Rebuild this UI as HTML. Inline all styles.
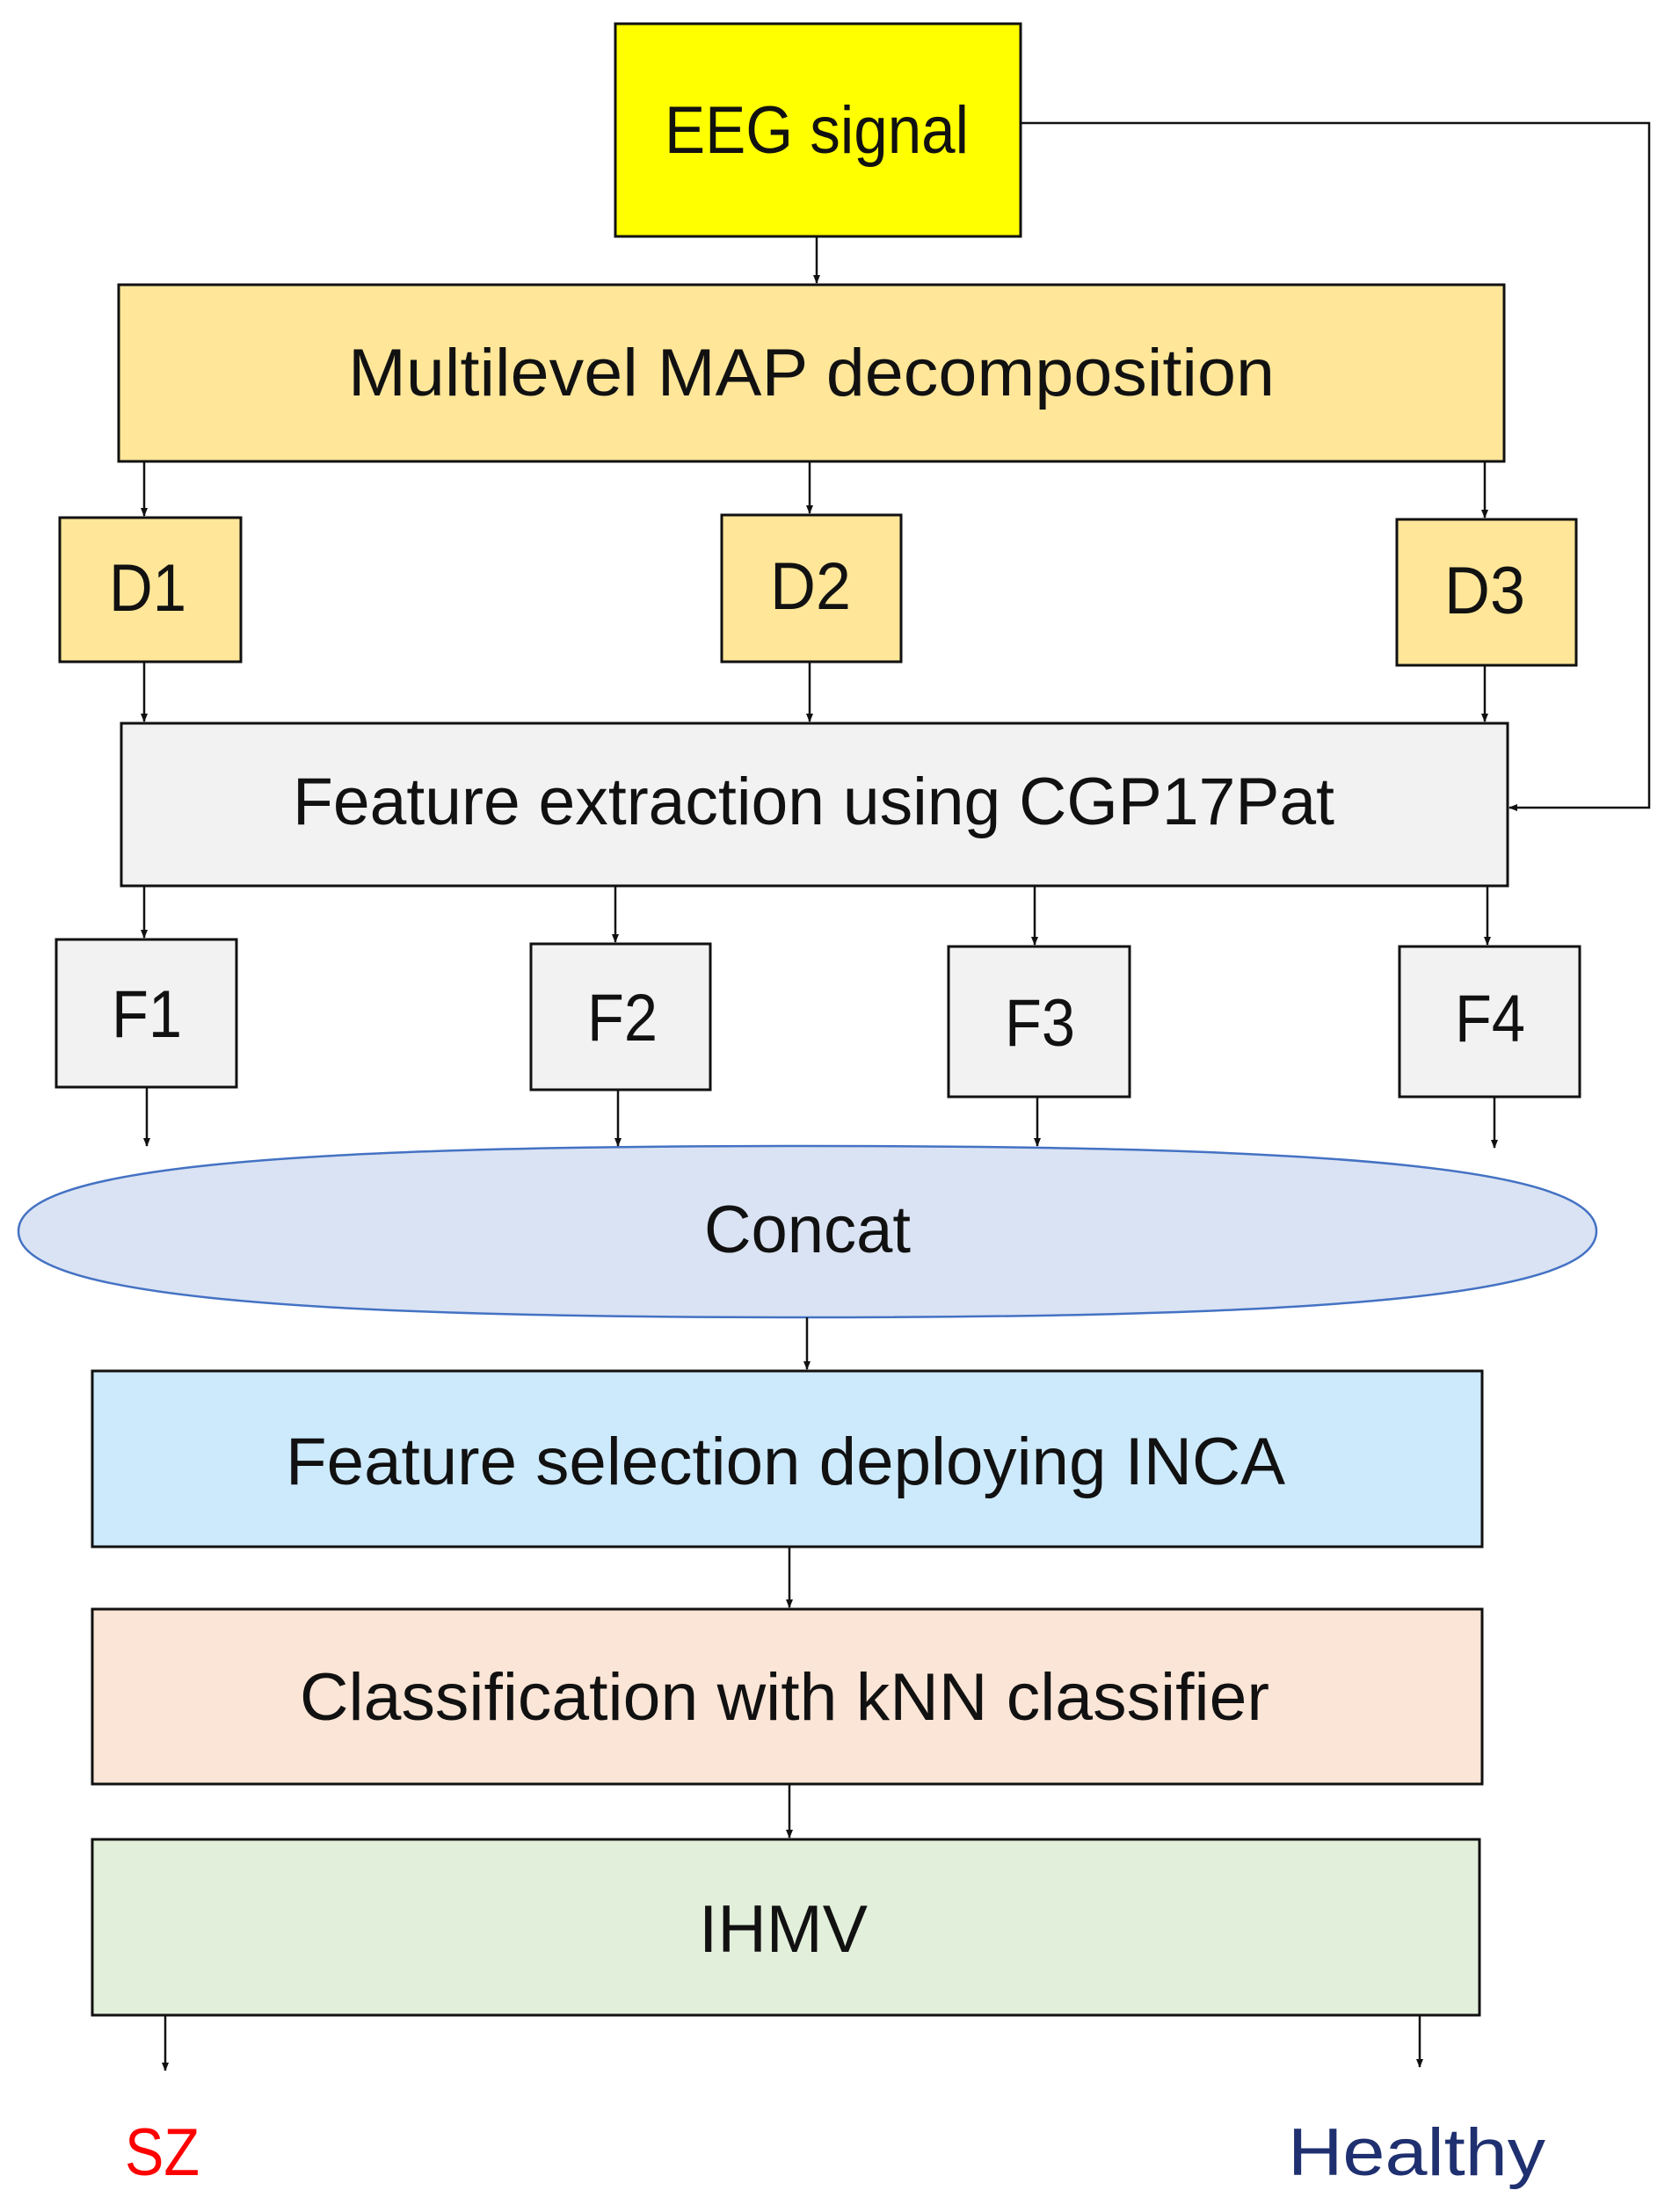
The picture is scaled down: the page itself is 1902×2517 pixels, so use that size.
<!DOCTYPE html>
<html><head><style>body{margin:0;background:#fff}svg{display:block}text{font-family:"Liberation Sans",sans-serif;fill:#111}</style></head>
<body>
<svg width="1902" height="2517" viewBox="0 0 1902 2517" xmlns="http://www.w3.org/2000/svg">
<defs><marker id="a" markerWidth="10" markerHeight="10" refX="9" refY="5" orient="auto" markerUnits="userSpaceOnUse"><path d="M0,1 L10,5 L0,9 z" fill="#111"/></marker></defs>
<g stroke="#111" stroke-width="3">
<rect x="700" y="27" width="461" height="242" fill="#ffff00"/>
<rect x="135" y="324" width="1576" height="201" fill="#ffe699"/>
<rect x="68" y="589" width="206" height="164" fill="#ffe699"/>
<rect x="821" y="586" width="204" height="167" fill="#ffe699"/>
<rect x="1589" y="591" width="204" height="166" fill="#ffe699"/>
<rect x="138" y="823" width="1577" height="185" fill="#f2f2f2"/>
<rect x="64" y="1069" width="205" height="168" fill="#f2f2f2"/>
<rect x="604" y="1074" width="204" height="166" fill="#f2f2f2"/>
<rect x="1079" y="1077" width="206" height="171" fill="#f2f2f2"/>
<rect x="1592" y="1077" width="205" height="171" fill="#f2f2f2"/>
<path d="M21,1401 C21,1330 300,1304 918,1304 C1536,1304 1816,1330 1816,1401 C1816,1472 1536,1499 918,1499 C300,1499 21,1472 21,1401 Z" fill="#dae3f3" stroke="#4472c4" stroke-width="2.5"/>
<rect x="105" y="1560" width="1581" height="200" fill="#cdeafd"/>
<rect x="105" y="1831" width="1581" height="199" fill="#fbe5d6"/>
<rect x="105" y="2093" width="1578" height="200" fill="#e2efda"/>
</g>
<g stroke="#111" stroke-width="2.5" fill="none" marker-end="url(#a)">
<line x1="929" y1="269" x2="929" y2="322"/>
<line x1="164" y1="525" x2="164" y2="587"/>
<line x1="921" y1="525" x2="921" y2="584"/>
<line x1="1689" y1="525" x2="1689" y2="589"/>
<line x1="164" y1="753" x2="164" y2="821"/>
<line x1="921" y1="753" x2="921" y2="821"/>
<line x1="1689" y1="757" x2="1689" y2="821"/>
<line x1="164" y1="1008" x2="164" y2="1067"/>
<line x1="700" y1="1008" x2="700" y2="1072"/>
<line x1="1177" y1="1008" x2="1177" y2="1075"/>
<line x1="1692" y1="1008" x2="1692" y2="1075"/>
<line x1="167" y1="1237" x2="167" y2="1304"/>
<line x1="703" y1="1240" x2="703" y2="1304"/>
<line x1="1180" y1="1248" x2="1180" y2="1304"/>
<line x1="1700" y1="1248" x2="1700" y2="1306"/>
<line x1="918" y1="1499" x2="918" y2="1558"/>
<line x1="898" y1="1760" x2="898" y2="1829"/>
<line x1="898" y1="2030" x2="898" y2="2091"/>
<line x1="188" y1="2293" x2="188" y2="2356"/>
<line x1="1615" y1="2293" x2="1615" y2="2352"/>
<polyline points="1161,140 1876,140 1876,919 1717,919"/>
</g>
<g font-size="76">
<text x="756" y="174" textLength="346" lengthAdjust="spacingAndGlyphs">EEG signal</text>
<text x="396" y="450" textLength="1054" lengthAdjust="spacingAndGlyphs">Multilevel MAP decomposition</text>
<text x="124" y="695" textLength="88" lengthAdjust="spacingAndGlyphs">D1</text>
<text x="876" y="693" textLength="92" lengthAdjust="spacingAndGlyphs">D2</text>
<text x="1643" y="698" textLength="92" lengthAdjust="spacingAndGlyphs">D3</text>
<text x="333" y="938" textLength="1185" lengthAdjust="spacingAndGlyphs">Feature extraction using CGP17Pat</text>
<text x="127" y="1180" textLength="80" lengthAdjust="spacingAndGlyphs">F1</text>
<text x="668" y="1184" textLength="80" lengthAdjust="spacingAndGlyphs">F2</text>
<text x="1143" y="1190" textLength="80" lengthAdjust="spacingAndGlyphs">F3</text>
<text x="1655" y="1185" textLength="80" lengthAdjust="spacingAndGlyphs">F4</text>
<text x="801" y="1425" textLength="235" lengthAdjust="spacingAndGlyphs">Concat</text>
<text x="325" y="1689" textLength="1137" lengthAdjust="spacingAndGlyphs">Feature selection deploying INCA</text>
<text x="341" y="1957" textLength="1103" lengthAdjust="spacingAndGlyphs">Classification with kNN classifier</text>
<text x="795" y="2221" textLength="192" lengthAdjust="spacingAndGlyphs">IHMV</text>
<text x="142" y="2475" textLength="85" lengthAdjust="spacingAndGlyphs" style="fill:#ff0000">SZ</text>
<text x="1465" y="2475" textLength="293" lengthAdjust="spacingAndGlyphs" style="fill:#1f3070">Healthy</text>
</g>
</svg>
</body></html>
